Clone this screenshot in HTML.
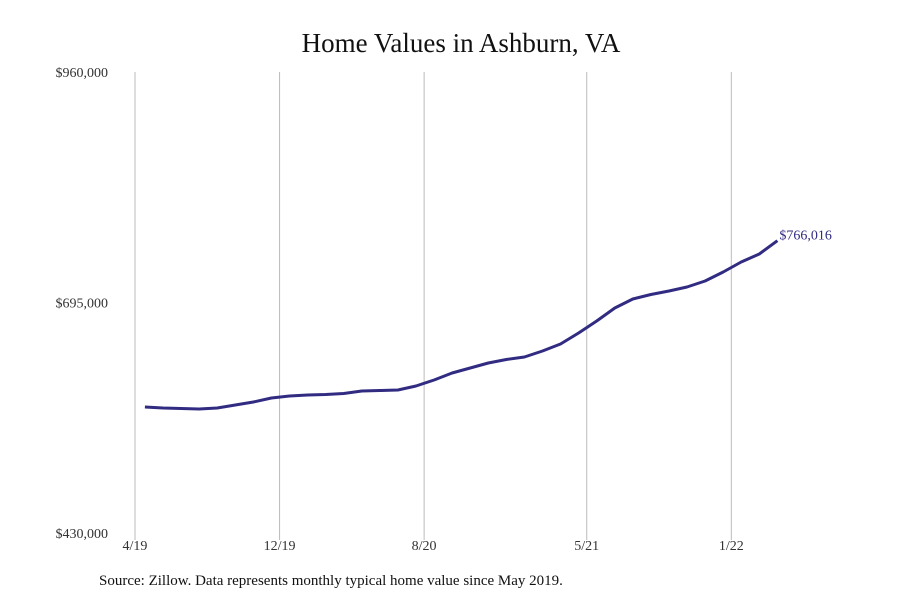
<!DOCTYPE html>
<html><head><meta charset="utf-8"><style>
body{margin:0;background:#fff;}
svg{display:block;font-family:"Liberation Serif",serif;}
</style></head><body>
<svg id="chart" width="900" height="600">
<text x="461" y="52" text-anchor="middle" font-size="27" fill="#111">Home Values in Ashburn, VA</text>
<g id="grid"></g><g id="yticks"></g><g id="xticks"></g><g id="series"></g>
<text x="99" y="585" font-size="15" fill="#111">Source: Zillow. Data represents monthly typical home value since May 2019.</text>
</svg>
<script>
const xTickLabels=["4/19","12/19","8/20","5/21","1/22"];
const xTickMonths=[0,8,16,25,33];
const yTickValues=[430000,695000,960000];
const yTickLabels=["$430,000","$695,000","$960,000"];
const values=[574850,573700,573130,572550,573700,577150,580600,585200,587500,588650,589220,590370,593250,593820,594400,599000,605890,613940,619690,625440,629460,632340,639240,647290,659930,673730,688680,699030,704200,708230,712830,719730,730070,741570,750770,766016];
const lastLabel="$766,016";
const NS="http://www.w3.org/2000/svg";
const yMin=430000,yMax=960000,yTop=72,yBot=533;
function y(v){return yBot-(v-yMin)/(yMax-yMin)*(yBot-yTop);}
const xStart=135,pxPerMonth=18.07;
function xm(m){return xStart+m*pxPerMonth;}
function xi(i){return xm(i+0.55);}
function mk(tag,attrs,parent){const e=document.createElementNS(NS,tag);for(const k in attrs)e.setAttribute(k,attrs[k]);document.getElementById(parent).appendChild(e);return e;}
xTickMonths.forEach((m,i)=>{
  const l=mk('line',{x1:xm(m),x2:xm(m),y1:yTop,y2:540,stroke:'#bbb','stroke-width':1},'grid');
  
  
  const t=mk('text',{x:xm(m),y:550,'text-anchor':'middle','font-size':14,fill:'#333'},'xticks');
  t.textContent=xTickLabels[i];
  
  
});
yTickValues.forEach((v,i)=>{
  const t=mk('text',{x:108,y:y(v)+5,'text-anchor':'end','font-size':14,fill:'#333'},'yticks');
  t.textContent=yTickLabels[i];
  
  
});
const d=values.map((v,i)=>(i?'L':'M')+xi(i).toFixed(1)+','+y(v).toFixed(1)).join(' ');
const p=mk('path',{d:d,fill:'none',stroke:'#312c82','stroke-width':3,'stroke-linejoin':'round'},'series');


const n=values.length-1;
const lt=mk('text',{x:xi(n)+2,y:y(values[n])-1,'font-size':14,fill:'#312c82'},'series');
lt.textContent=lastLabel;


</script>
</body></html>
